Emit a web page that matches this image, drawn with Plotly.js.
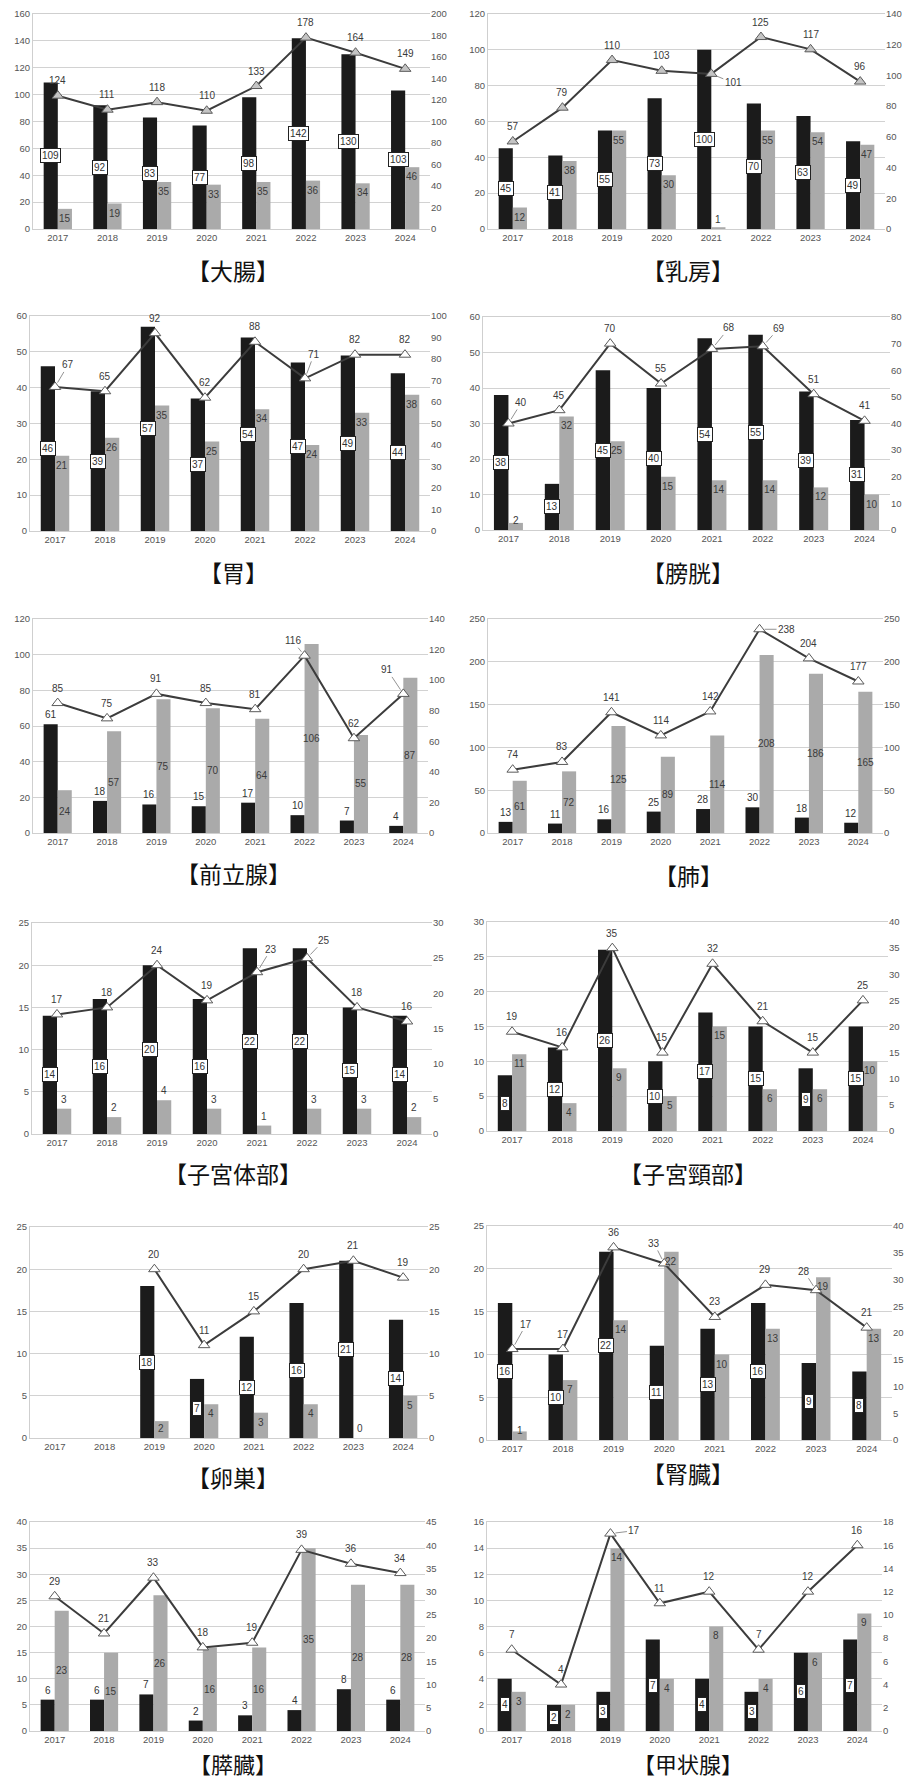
<!DOCTYPE html>
<html>
<head>
<meta charset="utf-8">
<script src="https://cdn.plot.ly/plotly-3.0.1.min.js"></script>
<style>
html,body{margin:0;padding:0;background:#fff;}
#chart{width:913px;height:1783px;}
</style>
</head>
<body>
<div id="chart"></div>
<script>
// ---------------- data ----------------
const years = ['2017','2018','2019','2020','2021','2022','2023','2024'];
const titles = ['【大腸】','【乳房】','【胃】','【膀胱】','【前立腺】','【肺】','【子宮体部】','【子宮頸部】','【卵巣】','【腎臓】','【膵臓】','【甲状腺】'];

const colonBlack = [109,92,83,77,98,142,130,103];
const colonGray  = [15,19,35,33,35,36,34,46];
const colonTotal = [124,111,118,110,133,178,164,149];

const breastBlack = [45,41,55,73,100,70,63,49];
const breastGray  = [12,38,55,30,1,55,54,47];
const breastTotal = [57,79,110,103,101,125,117,96];

const stomachBlack = [46,39,57,37,54,47,49,44];
const stomachGray  = [21,26,35,25,34,24,33,38];
const stomachTotal = [67,65,92,62,88,71,82,82];

const bladderBlack = [38,13,45,40,54,55,39,31];
const bladderGray  = [2,32,25,15,14,14,12,10];
const bladderTotal = [40,45,70,55,68,69,51,41];

const prostateBlack = [61,18,16,15,17,10,7,4];
const prostateGray  = [24,57,75,70,64,106,55,87];
const prostateTotal = [85,75,91,85,81,116,62,91];

const lungBlack = [13,11,16,25,28,30,18,12];
const lungGray  = [61,72,125,89,114,208,186,165];
const lungTotal = [74,83,141,114,142,238,204,177];

const uterusBodyBlack = [14,16,20,16,22,22,15,14];
const uterusBodyGray  = [3,2,4,3,1,3,3,2];
const uterusBodyTotal = [17,18,24,19,23,25,18,16];

const cervixBlack = [8,12,26,10,17,15,9,15];
const cervixGray  = [11,4,9,5,15,6,6,10];
const cervixTotal = [19,16,35,15,32,21,15,25];

const ovaryBlack = [null,null,18,7,12,16,21,14];
const ovaryGray  = [null,null,2,4,3,4,0,5];
const ovaryTotal = [null,null,20,11,15,20,21,19];

const kidneyBlack = [16,10,22,11,13,16,9,8];
const kidneyGray  = [1,7,14,22,10,13,19,13];
const kidneyTotal = [17,17,36,33,23,29,28,21];

const pancreasBlack = [6,6,7,2,3,4,8,6];
const pancreasGray  = [23,15,26,16,16,35,28,28];
const pancreasTotal = [29,21,33,18,19,39,36,34];

const thyroidBlack = [4,2,3,7,4,3,6,7];
const thyroidGray  = [3,2,14,4,8,4,6,9];
const thyroidTotal = [7,4,17,11,12,7,12,16];

// axis scales (left max, left step, right max, right step)
const leftMax   = [160,120,60,60,120,250,25,30,25,25,40,16];
const leftStep  = [20,20,10,10,20,50,5,5,5,5,5,2];
const rightMax  = [200,140,100,80,140,250,30,40,25,40,45,18];
const rightStep = [20,20,10,10,20,50,5,5,5,5,5,2];

const blacks = [colonBlack,breastBlack,stomachBlack,bladderBlack,prostateBlack,lungBlack,uterusBodyBlack,cervixBlack,ovaryBlack,kidneyBlack,pancreasBlack,thyroidBlack];
const grays  = [colonGray,breastGray,stomachGray,bladderGray,prostateGray,lungGray,uterusBodyGray,cervixGray,ovaryGray,kidneyGray,pancreasGray,thyroidGray];
const totals = [colonTotal,breastTotal,stomachTotal,bladderTotal,prostateTotal,lungTotal,uterusBodyTotal,cervixTotal,ovaryTotal,kidneyTotal,pancreasTotal,thyroidTotal];

// ---------------- styling / placement ----------------
const blackLabelMode = ['box','box','box','box','above','above','box','box','box','box','above','box'];
const grayLabelMode  = ['top','top','top','top','mid','mid','above','top','top','top','mid','top'];
const markerFill     = ['#c4c4c4','#c4c4c4','#fff','#fff','#fff','#fff','#fff','#fff','#fff','#fff','#fff','#fff'];

// total-label offsets with leader lines: "panel-index": [dx px, dy px up]
const leaderOffsets = {
  '1-4': [22,-9], '2-0': [13,22], '2-5': [9,24], '3-0': [13,21], '3-4': [17,21], '3-5': [16,18],
  '4-5': [-12,15], '4-7': [-16,24], '5-5': [27,0], '6-4': [14,23], '6-5': [17,18],
  '9-0': [14,25], '9-3': [-10,20], '9-6': [-12,19], '11-2': [24,3]
};

// plot boxes in pixels: [left, top, right, bottom]
const boxes = [
  [33,14,430,229],[488,14,885,229],
  [30,316,430,531],[483,317,890,530],
  [33,619,428,833],[488,619,883,833],
  [32,923,432,1134],[487,922,888,1131],
  [30,1227,428,1438],[487,1226,892,1440],
  [30,1522,425,1731],[487,1522,882,1731]
];
const titleY = [270,270,572,572,873,875,1173,1173,1477,1473,1763,1763];
const titleX = [233,688];

const W = 913, H = 1783;
const bargap = 0.43;
const numFont = 'Liberation Sans, Arial, sans-serif';

const data = [];
const layout = {
  width: W, height: H,
  margin: {l:0, r:0, t:0, b:0},
  showlegend: false,
  barmode: 'group',
  bargap: bargap,
  bargroupgap: 0,
  paper_bgcolor: '#fff',
  plot_bgcolor: '#fff',
  font: {family: numFont, color: '#555'},
  annotations: []
};

function sfx(n){ return n === 1 ? '' : String(n); }

for (let i = 0; i < 12; i++) {
  const xn = i + 1, yl = 2*i + 1, yr = 2*i + 2;
  const xr = 'x' + sfx(xn), ylr = 'y' + sfx(yl), yrr = 'y' + sfx(yr);
  const [l, t, r, b] = boxes[i];
  const dom = [1 - b/H, 1 - t/H];
  const tf = {size: 9.5, color: '#555', family: numFont};

  layout['xaxis' + sfx(xn)] = {
    domain: [l/W, r/W], anchor: ylr, type: 'category',
    categoryorder: 'array', categoryarray: years, range: [-0.5, 7.5],
    showline: true, mirror: true, linecolor: '#cfcfcf', linewidth: 1,
    ticks: '', showgrid: false, tickfont: tf, fixedrange: true
  };
  layout['yaxis' + sfx(yl)] = {
    domain: dom, anchor: xr, range: [0, leftMax[i]], tick0: 0, dtick: leftStep[i],
    showgrid: true, gridcolor: '#d2d2d2', gridwidth: 1, zeroline: false,
    showline: true, linecolor: '#cfcfcf', ticks: '', tickfont: tf, fixedrange: true
  };
  layout['yaxis' + sfx(yr)] = {
    domain: dom, overlaying: ylr, anchor: xr, side: 'right',
    range: [0, rightMax[i]], tick0: 0, dtick: rightStep[i],
    showgrid: false, zeroline: false, showline: false, ticks: '', tickfont: tf, fixedrange: true
  };

  data.push({type:'bar', x: years, y: blacks[i], xaxis: xr, yaxis: ylr,
    marker: {color: '#1b1b1b'}, hoverinfo: 'skip'});
  data.push({type:'bar', x: years, y: grays[i], xaxis: xr, yaxis: ylr,
    marker: {color: '#aaaaaa'}, hoverinfo: 'skip'});
  data.push({type:'scatter', mode:'lines+markers', x: years, y: totals[i], xaxis: xr, yaxis: yrr,
    line: {color: '#3c3c3c', width: 2}, connectgaps: false,
    marker: {symbol: 'triangle-up', size: 10, color: markerFill[i], line: {color: '#5a5a5a', width: 1}},
    hoverinfo: 'skip'});

  const shift = ((r - l) / 8) * (1 - bargap) / 4;
  const lm = leftMax[i];

  // black labels (x given as category index)
  blacks[i].forEach((v, j) => {
    if (v === null) return;
    if (blackLabelMode[i] === 'box') {
      layout.annotations.push({xref: xr, yref: ylr, x: j, y: v*0.5, text: String(v),
        showarrow: false, xshift: -shift, bgcolor: '#fff', bordercolor: '#222', borderwidth: 1, borderpad: 1,
        font: {size: 10, color: '#333', family: numFont}});
    } else {
      layout.annotations.push({xref: xr, yref: ylr, x: j, y: v, text: String(v),
        showarrow: false, xshift: -shift, yanchor: 'bottom', yshift: 2,
        font: {size: 10, color: '#333', family: numFont}});
    }
  });
  // gray labels
  grays[i].forEach((v, j) => {
    if (v === null) return;
    const mode = grayLabelMode[i];
    const a = {xref: xr, yref: ylr, x: j, text: String(v), showarrow: false, xshift: shift,
      font: {size: 10, color: '#3a3a3a', family: numFont}};
    if (mode === 'top') { a.y = Math.max(v - 0.045*lm, 0.045*lm); }
    else if (mode === 'mid') { a.y = v*0.5; }
    else { a.y = v; a.yanchor = 'bottom'; a.yshift = 2; }
    layout.annotations.push(a);
  });
  // total labels
  totals[i].forEach((v, j) => {
    if (v === null) return;
    const off = leaderOffsets[i + '-' + j];
    if (off) {
      layout.annotations.push({xref: xr, yref: yrr, x: j, y: v, text: String(v),
        showarrow: true, arrowhead: 0, arrowwidth: 0.8, arrowcolor: '#777', standoff: 5,
        ax: off[0], ay: -off[1], font: {size: 10, color: '#3a3a3a', family: numFont}});
    } else {
      layout.annotations.push({xref: xr, yref: yrr, x: j, y: v, text: String(v),
        showarrow: false, yanchor: 'middle', yshift: 15,
        font: {size: 10, color: '#3a3a3a', family: numFont}});
    }
  });
  // panel title
  layout.annotations.push({xref: 'paper', yref: 'paper', x: titleX[i % 2] / W, y: 1 - titleY[i] / H,
    xanchor: 'center', yanchor: 'middle', text: titles[i], showarrow: false,
    font: {size: i >= 10 ? 22 : 23, color: '#111', family: 'Noto Sans CJK JP, Noto Sans, sans-serif'}});
}

Plotly.newPlot('chart', data, layout, {staticPlot: true, displayModeBar: false});
</script>
</body>
</html>
